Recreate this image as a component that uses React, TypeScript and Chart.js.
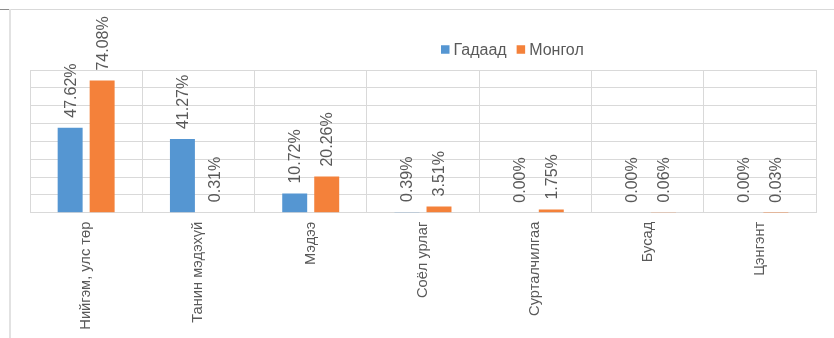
import React, { useEffect, useRef } from "react";
import { Chart, registerables } from "chart.js";

Chart.register(...registerables);

const categories = [
  "Нийгэм, улс төр",
  "Танин мэдэхүй",
  "Мэдээ",
  "Соёл урлаг",
  "Сурталчилгаа",
  "Бусад",
  "Цэнгэнт",
];
const gadaad = [47.62, 41.27, 10.72, 0.39, 0.0, 0.0, 0.0];
const mongol = [74.08, 0.31, 20.26, 3.51, 1.75, 0.06, 0.03];
const seriesNames = ["Гадаад", "Монгол"];
const seriesColors = ["#5596D2", "#F4813A"];

const FONT = "'Liberation Sans', Arial, sans-serif";
const GREY = "#595959";
const GRID = "#d9d9d9";

const labelPlugin = {
  id: "valueLabels",
  afterDatasetsDraw(chart: any) {
    const ctx = chart.ctx;
    ctx.save();
    ctx.font = `16px ${FONT}`;
    ctx.fillStyle = GREY;
    ctx.textAlign = "left";
    ctx.textBaseline = "middle";
    chart.data.datasets.forEach((ds: any, di: number) => {
      const meta = chart.getDatasetMeta(di);
      meta.data.forEach((el: any, i: number) => {
        const v = ds.data[i] as number;
        ctx.save();
        ctx.translate(el.x + 1, el.y - 10);
        ctx.rotate(-Math.PI / 2);
        ctx.fillText(v.toFixed(2) + "%", 0, 0);
        ctx.restore();
      });
    });
    ctx.restore();
  },
};

const legendAndFramePlugin = {
  id: "legendFrame",
  afterDraw(chart: any) {
    const ctx = chart.ctx;
    ctx.save();
    ctx.strokeStyle = "#d9d9d9";
    ctx.lineWidth = 1;
    ctx.beginPath();
    ctx.moveTo(10, 9.5);
    ctx.lineTo(834, 9.5);
    ctx.stroke();
    ctx.lineWidth = 2;
    ctx.strokeStyle = "#e2e2e2";
    ctx.beginPath();
    ctx.moveTo(10, 9);
    ctx.lineTo(10, 338);
    ctx.stroke();
    ctx.lineWidth = 1;
    ctx.strokeStyle = "#8c8c8c";
    ctx.beginPath();
    ctx.moveTo(0, 9.5);
    ctx.lineTo(9, 9.5);
    ctx.stroke();

    ctx.font = `16px ${FONT}`;
    ctx.textBaseline = "middle";
    ctx.textAlign = "left";
    let x = 441;
    const cy = 49.5;
    const box = 8.5;
    chart.data.datasets.forEach((ds: any) => {
      ctx.fillStyle = ds.backgroundColor;
      ctx.fillRect(x, cy - box / 2, box, box);
      x += box + 4;
      ctx.fillStyle = GREY;
      ctx.fillText(ds.label, x, cy + 1);
      x += ctx.measureText(ds.label).width + 10;
    });
    ctx.restore();
  },
};

export default function App() {
  const ref = useRef<HTMLCanvasElement>(null);
  useEffect(() => {
    if (!ref.current) return;
    const chart = new Chart(ref.current, {
      type: "bar",
      data: {
        labels: categories,
        datasets: [
          {
            label: seriesNames[0],
            data: gadaad,
            backgroundColor: seriesColors[0],
            categoryPercentage: 0.57,
            barPercentage: 0.78,
          },
          {
            label: seriesNames[1],
            data: mongol,
            backgroundColor: seriesColors[1],
            categoryPercentage: 0.57,
            barPercentage: 0.78,
          },
        ],
      },
      options: {
        animation: false,
        responsive: false,
        maintainAspectRatio: false,
        layout: { padding: { left: 30, right: 18, top: 70, bottom: 0 } },
        plugins: {
          legend: { display: false },
          tooltip: { enabled: false },
        },
        scales: {
          x: {
            grid: { color: GRID, offset: true, drawTicks: false },
            border: { color: GRID },
            ticks: {
              autoSkip: false,
              maxRotation: 90,
              minRotation: 90,
              padding: 9,
              color: GREY,
              font: { family: FONT, size: 14.67 },
            },
            afterFit: (s: any) => {
              s.height = 125.3;
            },
          },
          y: {
            min: 0,
            max: 80,
            ticks: { stepSize: 10, display: false },
            grid: { color: GRID, drawTicks: false },
            border: { display: false },
            afterFit: (s: any) => {
              s.width = 0;
            },
          },
        },
      },
      plugins: [labelPlugin, legendAndFramePlugin],
    });
    return () => chart.destroy();
  }, []);
  return (
    <div style={{ position: "fixed", left: 0, top: 0, width: 834, height: 338, background: "#fff" }}>
      <canvas ref={ref} width={834} height={338} style={{ width: 834, height: 338, display: "block" }} />
    </div>
  );
}
